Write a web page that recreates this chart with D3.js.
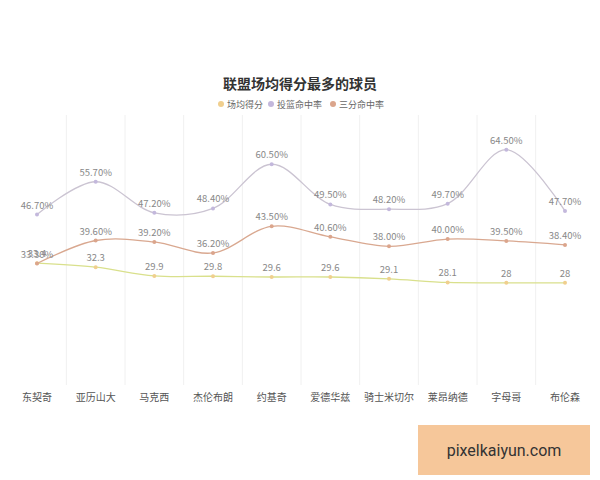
<!DOCTYPE html>
<html><head><meta charset="utf-8">
<script src="https://cdn.jsdelivr.net/npm/d3@7"></script>
<style>body{margin:0;background:#fff;font-family:"Noto Sans CJK SC","Noto Sans",sans-serif}</style>
</head><body><svg id="chart" width="600" height="480"></svg>
<script>
// data
var players = ["东契奇", "亚历山大", "马克西", "杰伦布朗", "约基奇", "爱德华兹", "骑士米切尔", "莱昂纳德", "字母哥", "布伦森"];
var ppg = [33.4, 32.3, 29.9, 29.8, 29.6, 29.6, 29.1, 28.1, 28, 28];
var fgPct = [46.7, 55.7, 47.2, 48.4, 60.5, 49.5, 48.2, 49.7, 64.5, 47.7];
var threePct = [33.3, 39.6, 39.2, 36.2, 43.5, 40.6, 38.0, 40.0, 39.5, 38.4];
var seriesNames = ["场均得分", "投篮命中率", "三分命中率"];

var series = [
    {name: seriesNames[0], values: ppg, line: "#d9e08c", dot: "#f0cf8e", fmt: d => String(d)},
    {name: seriesNames[1], values: fgPct, line: "#cbc4d2", dot: "#c3b8dc", fmt: d => d.toFixed(2) + "%"},
    {name: seriesNames[2], values: threePct, line: "#d9a890", dot: "#dba58c", fmt: d => d.toFixed(2) + "%"}
];

var svg = d3.select("#chart");

var x = d3.scalePoint().domain(players).range([37, 565]);
var y = d3.scaleLinear().domain([0, 74]).range([385, 115]);
var step = x.step();

// vertical grid between categories
svg.append("g").selectAll("line")
    .data(players.slice(0, -1))
    .enter().append("line")
    .attr("x1", d => x(d) + step / 2).attr("x2", d => x(d) + step / 2)
    .attr("y1", 115).attr("y2", 385)
    .attr("stroke", "#f0f0f0");

// category labels
svg.append("g").selectAll("text")
    .data(players)
    .enter().append("text")
    .attr("x", d => x(d)).attr("y", 401)
    .attr("text-anchor", "middle")
    .attr("font-size", 10).attr("fill", "#555")
    .text(d => d);

var line = d3.line()
    .x((d, i) => x(players[i]))
    .y(d => y(d))
    .curve(d3.curveCatmullRom.alpha(0.5));

series.forEach(function(s) {
    var g = svg.append("g");
    g.append("path")
        .attr("d", line(s.values))
        .attr("fill", "none").attr("stroke", s.line).attr("stroke-width", 1.3);
    g.selectAll("circle").data(s.values).enter().append("circle")
        .attr("cx", (d, i) => x(players[i])).attr("cy", d => y(d))
        .attr("r", 2).attr("fill", s.dot);
    g.selectAll("text").data(s.values).enter().append("text")
        .attr("x", (d, i) => x(players[i])).attr("y", d => y(d) - 6)
        .attr("text-anchor", "middle")
        .attr("font-size", 9.5).attr("fill", "#888")
        .text(s.fmt);
});

// Title
svg.append("text")
    .attr("x", 300).attr("y", 89)
    .attr("text-anchor", "middle")
    .attr("font-size", 14).attr("font-weight", "bold").attr("fill", "#333")
    .text("联盟场均得分最多的球员");

// Legend
var legendX = [221, 271, 333];
series.forEach(function(s, i) {
    svg.append("circle").attr("cx", legendX[i]).attr("cy", 104).attr("r", 3).attr("fill", s.dot);
    svg.append("text").attr("x", legendX[i] + 6).attr("y", 107.5)
        .attr("font-size", 9).attr("fill", "#666").text(s.name);
});

// watermark box
svg.append("rect").attr("x", 418).attr("y", 425).attr("width", 172).attr("height", 50).attr("fill", "#f6c79a");
svg.append("text").attr("x", 504).attr("y", 456).attr("text-anchor", "middle")
    .attr("font-size", 16).attr("fill", "#333").attr("font-family", "Roboto, sans-serif")
    .text("pixelkaiyun.com");
</script></body></html>
